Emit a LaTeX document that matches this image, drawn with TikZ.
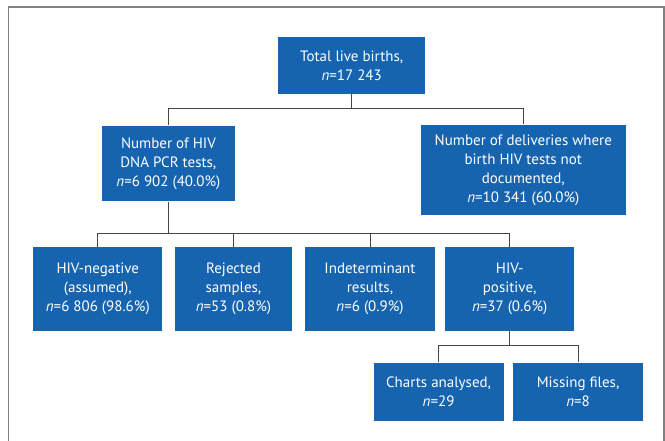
\documentclass[tikz,border=0pt]{standalone}
\usepackage{fontspec}
\setmainfont{PT Sans}
\usetikzlibrary{positioning,calc}
\definecolor{hivblue}{RGB}{22,100,175}
\definecolor{lnkgray}{RGB}{70,70,70}
\def\nn{\textit{n}=}

\begin{document}
\begin{tikzpicture}[x=1pt,y=-1pt,semithick,
    blk/.style={fill=hivblue,draw=none,text=white,rectangle,align=center,inner sep=0pt,minimum width=129.3pt,minimum height=83.7pt,font=\fontsize{15}{19}\selectfont},
    lnk/.style={draw=lnkgray,line width=1pt}]
%
   \clip (0,0) rectangle (665,441);
   \draw[gray,line width=1.2pt] (8.3,7) rectangle (664,460);
%
   \node[blk,minimum width=147.5pt,minimum height=56.7pt] (N1) at (351.7,65.3) {Total live births,\\ \nn17~243};
   \node[blk,minimum width=132.3pt,minimum height=75.7pt] (N2) [below=31.3pt of N1,xshift=-183.3pt] {Number of HIV\\ DNA PCR tests,\\ \nn6~902 (40.0\%)};
   \node[blk,minimum width=204.4pt,minimum height=90.7pt] (N3) [below=30.3pt of N1,xshift=171.6pt] {Number of deliveries where\\ birth HIV tests not\\ documented,\\ \nn10~341 (60.0\%)};
   \node[blk]                     (N4) [below=45.3pt of N2,xshift=-70.6pt] {HIV-negative\\ (assumed),\\ \nn6~806 (98.6\%)};
   \node[blk,minimum width=117.9pt] (N5) [right=11.5pt of N4] {Rejected\\ samples,\\ \nn53 (0.8\%)};
   \node[blk]                     (N6) [right=12.3pt of N5] {Indeterminant\\ results,\\ \nn6 (0.9\%)};
   \node[blk]                     (N7) [right=9.8pt of N6] {HIV-\\ positive,\\ \nn37 (0.6\%)};
   \node[blk,minimum width=129.8pt,minimum height=58.3pt] (N8) [below=31.3pt of N7,xshift=-71.1pt] {Charts analysed,\\ \nn29};
   \node[blk,minimum width=129.4pt,minimum height=58.3pt] (N9) [right=9.3pt of N8] {Missing files,\\ \nn8};
%
   \coordinate (J1) at ([yshift=-15pt]N1.south);
   \coordinate (J2) at ([yshift=-31.6pt]N2.south);
   \coordinate (J3) at ([yshift=-14pt]N7.south);
   \draw[lnk] (N1.south) -- (J1);
   \draw[lnk] (N2.north) |- (J1) -| (N3.north);
   \draw[lnk] (N2.south) -- (J2);
   \draw[lnk] (N4.north) |- (J2) -| (N7.north);
   \draw[lnk] (N5.north) -- (N5.north |- J2);
   \draw[lnk] (N6.north) -- (N6.north |- J2);
   \draw[lnk] (N7.south) -- (J3);
   \draw[lnk] (N8.north) |- (J3) -| (N9.north);
\end{tikzpicture}
\end{document}
